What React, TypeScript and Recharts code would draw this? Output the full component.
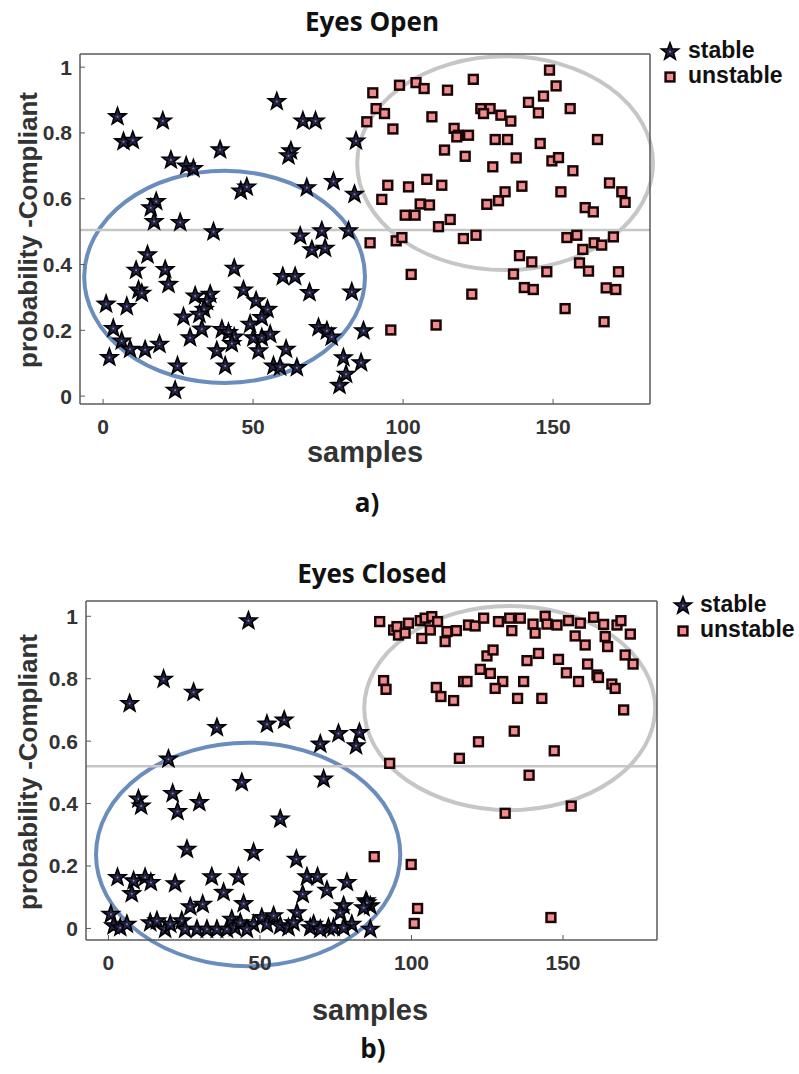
import {
  ReferenceArea,
  ReferenceLine,
  Scatter,
  ScatterChart,
  XAxis,
  YAxis,
} from "recharts";

// ---- data: [sample, probability] ----
const openStable: [number, number][] = [
  [4.8, 0.852], [19.9, 0.839], [6.8, 0.776], [9.9, 0.78], [22.6, 0.72], [27.7, 0.702],
  [30.1, 0.694], [39.0, 0.751], [57.9, 0.898], [66.6, 0.839], [70.8, 0.839], [62.6, 0.748],
  [61.8, 0.733], [45.9, 0.626], [47.9, 0.638], [67.9, 0.636], [76.8, 0.655], [83.8, 0.616],
  [84.3, 0.778], [17.7, 0.594], [15.9, 0.575], [17.0, 0.533], [25.7, 0.53], [36.8, 0.502],
  [65.7, 0.489], [72.9, 0.505], [81.8, 0.505], [69.6, 0.447], [74.0, 0.452], [14.8, 0.432],
  [11.0, 0.385], [20.7, 0.387], [21.8, 0.342], [43.7, 0.391], [59.9, 0.366], [64.0, 0.366],
  [11.8, 0.325], [12.9, 0.315], [1.0, 0.282], [7.9, 0.275], [30.7, 0.307], [35.7, 0.312],
  [34.6, 0.29], [33.7, 0.266], [32.1, 0.251], [26.8, 0.243], [46.8, 0.325], [51.0, 0.292],
  [54.8, 0.266], [52.9, 0.241], [68.8, 0.317], [82.9, 0.319], [3.4, 0.208], [39.6, 0.205],
  [41.8, 0.196], [43.7, 0.182], [42.9, 0.162], [49.0, 0.221], [50.1, 0.18], [52.9, 0.18],
  [55.7, 0.19], [51.8, 0.14], [32.9, 0.206], [29.0, 0.18], [71.8, 0.211], [74.6, 0.201],
  [76.2, 0.182], [86.8, 0.201], [6.2, 0.17], [9.0, 0.145], [14.0, 0.143], [18.8, 0.16],
  [2.1, 0.12], [24.8, 0.094], [37.9, 0.14], [40.7, 0.094], [61.0, 0.145], [56.8, 0.094],
  [59.0, 0.091], [64.6, 0.089], [80.1, 0.119], [81.0, 0.069], [78.8, 0.035], [86.0, 0.104],
  [24.0, 0.02],
];

const openUnstable: [number, number][] = [
  [89.9, 0.922], [98.8, 0.945], [104.3, 0.953], [107.0, 0.935], [114.8, 0.93], [123.4, 0.963],
  [148.8, 0.991], [151.0, 0.943], [146.8, 0.912], [141.8, 0.893], [145.1, 0.861], [155.7, 0.874],
  [91.0, 0.874], [93.8, 0.859], [87.9, 0.834], [96.6, 0.812], [109.6, 0.849], [125.9, 0.874],
  [129.0, 0.874], [126.8, 0.859], [132.6, 0.854], [135.9, 0.836], [117.0, 0.814], [118.4, 0.793],
  [117.9, 0.788], [121.8, 0.793], [130.7, 0.78], [134.8, 0.78], [145.7, 0.768], [164.8, 0.78],
  [113.8, 0.748], [120.7, 0.729], [137.7, 0.724], [129.9, 0.697], [149.6, 0.715], [151.8, 0.725],
  [156.6, 0.685], [94.9, 0.641], [101.8, 0.636], [107.9, 0.659], [112.9, 0.641], [92.9, 0.598],
  [105.7, 0.584], [108.8, 0.581], [100.7, 0.55], [104.0, 0.55], [111.8, 0.515], [115.7, 0.537],
  [127.9, 0.583], [131.8, 0.594], [134.0, 0.621], [139.6, 0.638], [152.6, 0.621], [160.7, 0.573],
  [163.4, 0.56], [168.8, 0.648], [172.9, 0.621], [174.0, 0.589], [89.0, 0.466], [97.7, 0.472],
  [99.6, 0.482], [120.1, 0.479], [124.3, 0.489], [154.6, 0.482], [157.9, 0.489], [159.9, 0.446],
  [163.7, 0.466], [166.2, 0.459], [170.1, 0.484], [138.8, 0.427], [142.9, 0.408], [136.8, 0.371],
  [147.9, 0.378], [158.8, 0.405], [161.8, 0.38], [171.8, 0.378], [102.7, 0.37], [122.9, 0.31],
  [140.4, 0.33], [143.4, 0.324], [167.7, 0.329], [170.9, 0.324], [154.0, 0.266], [167.0, 0.226],
  [95.9, 0.201], [111.0, 0.216],
];

const closedStable: [number, number][] = [
  [46.2, 0.988], [7.0, 0.723], [18.2, 0.801], [28.1, 0.759], [35.8, 0.646], [52.3, 0.657],
  [58.0, 0.67], [69.9, 0.593], [75.9, 0.627], [82.8, 0.63], [81.7, 0.588], [19.8, 0.545],
  [44.0, 0.47], [71.0, 0.481], [9.9, 0.417], [10.8, 0.395], [21.2, 0.435], [22.8, 0.377],
  [30.0, 0.406], [56.7, 0.353], [25.9, 0.256], [47.9, 0.246], [62.0, 0.224], [3.0, 0.166],
  [8.3, 0.155], [12.1, 0.166], [14.0, 0.15], [7.7, 0.114], [22.0, 0.146], [34.1, 0.168],
  [38.0, 0.118], [42.9, 0.168], [44.6, 0.082], [27.0, 0.072], [31.1, 0.08], [65.5, 0.168],
  [69.0, 0.168], [64.1, 0.112], [72.1, 0.125], [78.7, 0.15], [77.6, 0.075], [76.5, 0.053],
  [85.0, 0.091], [86.4, 0.075], [62.2, 0.053], [0.8, 0.048], [1.7, 0.011], [3.9, 0.005],
  [13.8, 0.021], [16.0, 0.027], [18.7, 0.0], [24.2, 0.027], [25.3, 0.0], [29.2, 0.0],
  [32.5, 0.0], [35.8, 0.0], [39.1, 0.0], [40.7, 0.032], [41.8, 0.005], [47.9, 0.016],
  [50.6, 0.037], [52.3, 0.016], [54.5, 0.043], [56.7, 0.011], [59.4, 0.005], [66.6, 0.005],
  [67.7, 0.016], [72.6, 0.005], [74.3, 0.005], [80.3, 0.016], [86.4, 0.0], [6.1, 0.016],
  [20.4, 0.016], [43.5, 0.021], [45.7, 0.0], [61.1, 0.021], [69.9, 0.0], [77.6, 0.005],
  [85.3, 0.085], [84.2, 0.069],
];

const closedUnstable: [number, number][] = [
  [89.5, 0.983], [94.1, 0.956], [95.7, 0.94], [95.2, 0.967], [99.0, 0.978], [97.9, 0.946],
  [102.9, 0.986], [104.5, 0.994], [106.7, 0.999], [106.2, 0.956], [103.4, 0.929], [108.6, 0.983],
  [111.7, 0.951], [111.1, 0.919], [114.8, 0.954], [118.8, 0.972], [121.0, 0.969], [123.8, 0.994],
  [128.7, 0.983], [132.4, 0.994], [133.1, 0.954], [135.9, 0.994], [140.1, 0.975], [140.8, 0.946],
  [144.1, 1.0], [144.7, 0.975], [148.0, 0.972], [151.8, 0.986], [155.7, 0.978], [154.0, 0.937],
  [157.3, 0.908], [160.1, 0.997], [163.4, 0.974], [163.9, 0.935], [164.7, 0.903], [167.8, 0.972],
  [169.1, 0.986], [172.2, 0.943], [170.5, 0.876], [173.1, 0.847], [124.9, 0.873], [126.9, 0.892],
  [138.1, 0.858], [141.9, 0.881], [148.5, 0.862], [151.1, 0.819], [155.1, 0.791], [158.1, 0.847],
  [161.2, 0.812], [161.7, 0.804], [166.1, 0.783], [167.2, 0.769], [122.7, 0.83], [126.0, 0.817],
  [130.1, 0.791], [127.6, 0.769], [117.2, 0.791], [118.3, 0.791], [137.0, 0.791], [90.8, 0.794],
  [91.6, 0.766], [108.2, 0.772], [109.7, 0.743], [113.9, 0.73], [135.0, 0.737], [143.0, 0.737],
  [170.0, 0.7], [133.9, 0.632], [122.1, 0.598], [115.8, 0.545], [147.1, 0.569], [92.8, 0.529],
  [138.8, 0.491], [130.9, 0.369], [152.7, 0.392], [87.7, 0.23], [99.9, 0.205], [102.0, 0.064],
  [100.9, 0.016], [146.0, 0.035],
];

const xTicks = [0, 50, 100, 150];
const yTicks = [0, 0.2, 0.4, 0.6, 0.8, 1];

// ellipses drawn around the clusters: [x1, x2, y1, y2]
const openBlueEllipse = [-6.3, 87.3, 0.04, 0.685];
const openGrayEllipse = [84.7, 183.3, 0.383, 1.033];
const closedBlueEllipse = [-4.1, 96.3, -0.121, 0.595];
const closedGrayEllipse = [84.4, 180.4, 0.379, 1.033];

const openThreshold = 0.505;
const closedThreshold = 0.52;

const toPoints = (rows: [number, number][]) => rows.map(([x, y]) => ({ x, y }));

const STAR_FILL = "#222244";
const SQUARE_FILL = "#f08c8e";
const BLUE = "#6b8dbd";
const GRAY = "#c6c6c6";
const AXIS = "#5a5a5a";
const TICK_FONT = { fontFamily: "Liberation Sans, Arial, sans-serif", fontSize: 21, fontWeight: 700, fill: "#333" };

function starPoints(cx: number, cy: number, R: number, r: number) {
  const pts: string[] = [];
  for (let i = 0; i < 10; i++) {
    const a = -Math.PI / 2 + (i * Math.PI) / 5;
    const rad = i % 2 === 0 ? R : r;
    pts.push(`${(cx + rad * Math.cos(a)).toFixed(2)},${(cy + rad * Math.sin(a)).toFixed(2)}`);
  }
  return pts.join(" ");
}

function Star({ cx, cy }: { cx: number; cy: number }) {
  return (
    <g>
      <polygon points={starPoints(cx, cy + 0.8, 9, 3.7)} fill={STAR_FILL} stroke="#000" strokeWidth={1.6} />
      <circle cx={cx} cy={cy + 0.8} r={1} fill="#8a8aa8" />
    </g>
  );
}

function Square({ cx, cy }: { cx: number; cy: number }) {
  return <rect x={cx - 4.4} y={cy - 4.4} width={8.8} height={8.8} fill={SQUARE_FILL} stroke="#1a0606" strokeWidth={2.5} />;
}

const ellipseShape = (stroke: string) => (props: any) => {
  const { x, y, width, height } = props;
  return (
    <ellipse
      cx={x + width / 2}
      cy={y + height / 2}
      rx={Math.abs(width) / 2}
      ry={Math.abs(height) / 2}
      fill="none"
      stroke={stroke}
      strokeWidth={4}
    />
  );
};

interface PanelProps {
  top: number;
  height: number;
  margin: { top: number; left: number; right: number; bottom: number };
  xDomain: [number, number];
  yDomain: [number, number];
  stable: [number, number][];
  unstable: [number, number][];
  blue: number[];
  gray: number[];
  threshold: number;
}

function Panel(p: PanelProps) {
  const line = { stroke: AXIS, strokeWidth: 1.5 };
  return (
    <div style={{ position: "absolute", left: 0, top: p.top }}>
      <ScatterChart width={799} height={p.height} margin={p.margin}>
        <XAxis
          type="number"
          dataKey="x"
          domain={p.xDomain}
          ticks={xTicks}
          allowDataOverflow
          height={30}
          tickSize={-5}
          tickMargin={20}
          tick={TICK_FONT}
          axisLine={line}
          tickLine={{ stroke: AXIS }}
        />
        <XAxis
          xAxisId="top"
          orientation="top"
          type="number"
          domain={p.xDomain}
          ticks={xTicks}
          allowDataOverflow
          height={2}
          tickSize={-5}
          tick={false}
          axisLine={line}
          tickLine={{ stroke: AXIS }}
        />
        <YAxis
          type="number"
          dataKey="y"
          domain={p.yDomain}
          ticks={yTicks}
          allowDataOverflow
          width={40}
          tickSize={-5}
          tickMargin={13}
          tick={TICK_FONT}
          axisLine={line}
          tickLine={{ stroke: AXIS }}
        />
        <YAxis
          yAxisId="right"
          orientation="right"
          type="number"
          domain={p.yDomain}
          ticks={yTicks}
          allowDataOverflow
          width={2}
          tickSize={-5}
          tick={false}
          axisLine={line}
          tickLine={{ stroke: AXIS }}
        />
        <ReferenceLine y={p.threshold} stroke={GRAY} strokeWidth={2.5} />
        <Scatter
          data={toPoints(p.stable)}
          isAnimationActive={false}
          shape={(s: any) => <Star cx={s.cx} cy={s.cy} />}
        />
        <Scatter
          data={toPoints(p.unstable)}
          isAnimationActive={false}
          shape={(s: any) => <Square cx={s.cx} cy={s.cy} />}
        />
        <ReferenceArea
          x1={p.blue[0]}
          x2={p.blue[1]}
          y1={p.blue[2]}
          y2={p.blue[3]}
          ifOverflow="visible"
          shape={ellipseShape(BLUE)}
        />
        <ReferenceArea
          x1={p.gray[0]}
          x2={p.gray[1]}
          y1={p.gray[2]}
          y2={p.gray[3]}
          ifOverflow="visible"
          shape={ellipseShape(GRAY)}
        />
      </ScatterChart>
    </div>
  );
}

const labelFont = "Liberation Sans, Arial, sans-serif";
const titleFont = "Open Sans, sans-serif";

export default function App() {
  return (
    <div style={{ position: "absolute", left: 0, top: 0, width: 799, height: 1074, background: "#fff" }}>
      <Panel
        top={0}
        height={540}
        margin={{ top: 52, left: 40, right: 147, bottom: 106 }}
        xDomain={[-7.7, 182.3]}
        yDomain={[-0.024, 1.04]}
        stable={openStable}
        unstable={openUnstable}
        blue={openBlueEllipse}
        gray={openGrayEllipse}
        threshold={openThreshold}
      />
      <Panel
        top={540}
        height={534}
        margin={{ top: 59, left: 46, right: 140, bottom: 104 }}
        xDomain={[-7.4, 181]}
        yDomain={[-0.037, 1.049]}
        stable={closedStable}
        unstable={closedUnstable}
        blue={closedBlueEllipse}
        gray={closedGrayEllipse}
        threshold={closedThreshold}
      />
      <svg width={799} height={1074} style={{ position: "absolute", left: 0, top: 0, pointerEvents: "none" }}>
        {/* panel a */}
        <text x={372} y={31} textAnchor="middle" fontFamily={titleFont} fontWeight={700} fontSize={26} fill="#111">Eyes Open</text>
        <text transform="rotate(-90 37 230)" x={37} y={230} textAnchor="middle" fontFamily={labelFont} fontWeight={700} fontSize={26} fill="#333">probability -Compliant</text>
        <text x={365} y={462} textAnchor="middle" fontFamily={labelFont} fontWeight={700} fontSize={29} fill="#333">samples</text>
        <text x={367} y={512} textAnchor="middle" fontFamily={titleFont} fontWeight={700} fontSize={26} fill="#111">a)</text>
        <Star cx={670} cy={51} />
        <text x={688} y={58} fontFamily={labelFont} fontWeight={700} fontSize={23} fill="#111">stable</text>
        <Square cx={670} cy={77} />
        <text x={688} y={83} fontFamily={labelFont} fontWeight={700} fontSize={23} fill="#111">unstable</text>

        {/* panel b */}
        <text x={372} y={583} textAnchor="middle" fontFamily={titleFont} fontWeight={700} fontSize={26} fill="#111">Eyes Closed</text>
        <text transform="rotate(-90 37 772)" x={37} y={772} textAnchor="middle" fontFamily={labelFont} fontWeight={700} fontSize={26} fill="#333">probability -Compliant</text>
        <text x={370} y={1020} textAnchor="middle" fontFamily={labelFont} fontWeight={700} fontSize={29} fill="#333">samples</text>
        <text x={373} y={1058} textAnchor="middle" fontFamily={titleFont} fontWeight={700} fontSize={26} fill="#111">b)</text>
        <Star cx={683} cy={605} />
        <text x={700} y={612} fontFamily={labelFont} fontWeight={700} fontSize={23} fill="#111">stable</text>
        <Square cx={683} cy={631} />
        <text x={700} y={637} fontFamily={labelFont} fontWeight={700} fontSize={23} fill="#111">unstable</text>
      </svg>
    </div>
  );
}
